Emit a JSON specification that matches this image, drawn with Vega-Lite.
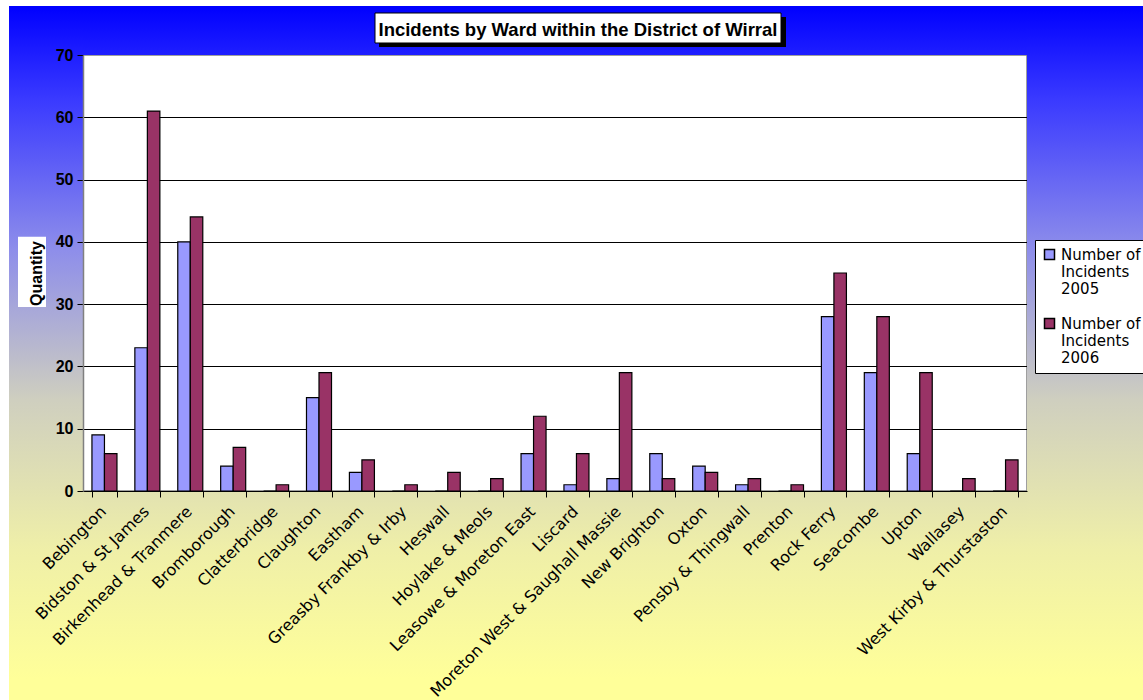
{
  "$schema": "https://vega.github.io/schema/vega-lite/v6.json",
  "width": 944,
  "height": 436,
  "autosize": {"type": "none"},
  "padding": {"left": 83, "top": 55, "right": 116, "bottom": 209},
  "background": "white",
  "title": {
    "text": "Incidents by Ward within the District of Wirral",
    "font": "Liberation Sans",
    "fontSize": 18.5,
    "fontWeight": "bold",
    "color": "black",
    "anchor": "middle",
    "frame": "group",
    "baseline": "alphabetic",
    "offset": 0,
    "dx": 23,
    "dy": 49,
    "zindex": 1
  },
  "config": {
    "view": {"fill": "white", "stroke": "#808080", "strokeWidth": 1.5},
    "axis": {"labelColor": "black", "tickColor": "black", "titleColor": "black"}
  },
  "datasets": {
    "frame": [{}],
    "wards": [
      {"ward": "Bebington", "Number of Incidents 2005": 9, "Number of Incidents 2006": 6},
      {"ward": "Bidston & St James", "Number of Incidents 2005": 23, "Number of Incidents 2006": 61},
      {"ward": "Birkenhead & Tranmere", "Number of Incidents 2005": 40, "Number of Incidents 2006": 44},
      {"ward": "Bromborough", "Number of Incidents 2005": 4, "Number of Incidents 2006": 7},
      {"ward": "Clatterbridge", "Number of Incidents 2005": 0, "Number of Incidents 2006": 1},
      {"ward": "Claughton", "Number of Incidents 2005": 15, "Number of Incidents 2006": 19},
      {"ward": "Eastham", "Number of Incidents 2005": 3, "Number of Incidents 2006": 5},
      {"ward": "Greasby Frankby & Irby", "Number of Incidents 2005": 0, "Number of Incidents 2006": 1},
      {"ward": "Heswall", "Number of Incidents 2005": 0, "Number of Incidents 2006": 3},
      {"ward": "Hoylake & Meols", "Number of Incidents 2005": 0, "Number of Incidents 2006": 2},
      {"ward": "Leasowe & Moreton East", "Number of Incidents 2005": 6, "Number of Incidents 2006": 12},
      {"ward": "Liscard", "Number of Incidents 2005": 1, "Number of Incidents 2006": 6},
      {"ward": "Moreton West & Saughall Massie", "Number of Incidents 2005": 2, "Number of Incidents 2006": 19},
      {"ward": "New Brighton", "Number of Incidents 2005": 6, "Number of Incidents 2006": 2},
      {"ward": "Oxton", "Number of Incidents 2005": 4, "Number of Incidents 2006": 3},
      {"ward": "Pensby & Thingwall", "Number of Incidents 2005": 1, "Number of Incidents 2006": 2},
      {"ward": "Prenton", "Number of Incidents 2005": 0, "Number of Incidents 2006": 1},
      {"ward": "Rock Ferry", "Number of Incidents 2005": 28, "Number of Incidents 2006": 35},
      {"ward": "Seacombe", "Number of Incidents 2005": 19, "Number of Incidents 2006": 28},
      {"ward": "Upton", "Number of Incidents 2005": 6, "Number of Incidents 2006": 19},
      {"ward": "Wallasey", "Number of Incidents 2005": 0, "Number of Incidents 2006": 2},
      {"ward": "West Kirby & Thurstaston", "Number of Incidents 2005": 0, "Number of Incidents 2006": 5}
    ]
  },
  "resolve": {"axis": {"y": "independent"}},
  "layer": [
    {
      "data": {"name": "frame"},
      "mark": {
        "type": "rect",
        "strokeWidth": 0,
        "fill": {
          "gradient": "linear", "x1": 0, "y1": 0, "x2": 0, "y2": 1,
          "stops": [
            {"offset": 0, "color": "#0000ff"},
            {"offset": 0.135, "color": "#3a3aff"},
            {"offset": 0.352, "color": "#8e8eea"},
            {"offset": 0.568, "color": "#cfcfbf"},
            {"offset": 0.784, "color": "#efefa8"},
            {"offset": 0.97, "color": "#ffff99"},
            {"offset": 1, "color": "#ffff99"}
          ]
        }
      },
      "encoding": {
        "x": {"value": -74},
        "x2": {"value": 0},
        "y": {
          "datum": 77.867, "type": "quantitative",
          "scale": {"domain": [0, 70], "nice": false, "zero": false},
          "axis": {
            "orient": "right", "values": [10, 20, 30, 40, 50, 60],
            "grid": true, "gridColor": "black", "gridWidth": 1,
            "labels": false, "ticks": false, "domain": false, "title": null, "zindex": 0
          }
        },
        "y2": {"datum": -33.555}
      }
    },
    {
      "data": {"name": "frame"},
      "mark": {
        "type": "rect",
        "strokeWidth": 0,
        "fill": {
          "gradient": "linear", "x1": 0, "y1": 0, "x2": 0, "y2": 1,
          "stops": [
            {"offset": 0, "color": "#0000ff"},
            {"offset": 0.135, "color": "#3a3aff"},
            {"offset": 0.352, "color": "#8e8eea"},
            {"offset": 0.568, "color": "#cfcfbf"},
            {"offset": 0.784, "color": "#efefa8"},
            {"offset": 0.97, "color": "#ffff99"},
            {"offset": 1, "color": "#ffff99"}
          ]
        }
      },
      "encoding": {
        "x": {"value": 944},
        "x2": {"value": 1060},
        "y": {"datum": 77.867, "type": "quantitative", "scale": {"domain": [0, 70], "nice": false, "zero": false}, "axis": null},
        "y2": {"datum": -33.555}
      }
    },
    {
      "data": {"name": "frame"},
      "mark": {
        "type": "rect",
        "strokeWidth": 0,
        "fill": {
          "gradient": "linear", "x1": 0, "y1": 0, "x2": 0, "y2": 1,
          "stops": [
            {"offset": 0, "color": "#0000ff"},
            {"offset": 1, "color": "#1e1eff"}
          ]
        }
      },
      "encoding": {
        "x": {"value": 0},
        "x2": {"value": 944},
        "y": {"datum": 77.867, "type": "quantitative", "scale": {"domain": [0, 70], "nice": false, "zero": false}, "axis": null},
        "y2": {"datum": 70}
      }
    },
    {
      "data": {"name": "frame"},
      "mark": {
        "type": "rect",
        "strokeWidth": 0,
        "fill": {
          "gradient": "linear", "x1": 0, "y1": 0, "x2": 0, "y2": 1,
          "stops": [
            {"offset": 0, "color": "#e2e2b1"},
            {"offset": 0.282, "color": "#efefa8"},
            {"offset": 0.9, "color": "#ffff99"},
            {"offset": 1, "color": "#ffff99"}
          ]
        }
      },
      "encoding": {
        "x": {"value": 0},
        "x2": {"value": 944},
        "y": {"datum": 0, "type": "quantitative", "scale": {"domain": [0, 70], "nice": false, "zero": false}, "axis": null},
        "y2": {"datum": -33.555}
      }
    },
    {
      "data": {"name": "frame"},
      "mark": {"type": "rect", "fill": "black", "strokeWidth": 0},
      "encoding": {
        "x": {"value": 296},
        "x2": {"value": 703},
        "y": {"datum": 76.101, "type": "quantitative", "scale": {"domain": [0, 70], "nice": false, "zero": false}, "axis": null},
        "y2": {"datum": 71.284}
      }
    },
    {
      "data": {"name": "frame"},
      "mark": {"type": "rect", "fill": "white", "stroke": "black", "strokeWidth": 1},
      "encoding": {
        "x": {"value": 292},
        "x2": {"value": 698},
        "y": {"datum": 76.743, "type": "quantitative", "scale": {"domain": [0, 70], "nice": false, "zero": false}, "axis": null},
        "y2": {"datum": 71.927}
      }
    },
    {
      "data": {"name": "frame"},
      "mark": {"type": "rect", "fill": "white", "strokeWidth": 0},
      "encoding": {
        "x": {"value": -65},
        "x2": {"value": -37},
        "y": {"datum": 40.83, "type": "quantitative", "scale": {"domain": [0, 70], "nice": false, "zero": false}, "axis": null},
        "y2": {"datum": 29.54}
      }
    },
    {
      "data": {"name": "wards"},
      "transform": [{"fold": ["Number of Incidents 2005", "Number of Incidents 2006"], "as": ["series", "count"]}],
      "mark": {"type": "bar", "stroke": "black", "strokeWidth": 1.2},
      "encoding": {
        "x": {
          "field": "ward", "type": "nominal", "sort": null,
          "scale": {"paddingInner": 0.417, "paddingOuter": 0.2085},
          "axis": {
            "title": null, "labelAngle": -45, "labelFont": "DejaVu Sans", "labelFontSize": 16,
            "labelColor": "black", "labelLimit": 0, "labelOverlap": false, "labelPadding": 6, "labelOffset": -7,
            "tickBand": "extent", "tickSize": 6, "tickColor": "black", "tickWidth": 1,
            "domainColor": "black", "domainWidth": 1.2, "zindex": 1
          }
        },
        "xOffset": {"field": "series", "type": "nominal", "scale": {"paddingInner": 0, "paddingOuter": 0}},
        "y": {
          "field": "count", "type": "quantitative",
          "scale": {"domain": [0, 70], "nice": false, "zero": false},
          "axis": {
            "orient": "left", "values": [0, 10, 20, 30, 40, 50, 60, 70], "grid": false,
            "domainColor": "#808080", "domainWidth": 1.5, "tickSize": 6, "tickColor": "black",
            "labelFont": "Liberation Sans", "labelFontSize": 16, "labelFontWeight": "bold", "labelPadding": 4,
            "title": "Quantity", "titleFont": "Liberation Sans", "titleFontSize": 16, "titleFontWeight": "bold",
            "titlePadding": 11, "zindex": 1
          }
        },
        "color": {
          "field": "series", "type": "nominal",
          "scale": {"range": ["#9999ff", "#993366"]},
          "legend": {
            "title": null, "orient": "none", "legendX": 952, "legendY": 185,
            "fillColor": "white", "strokeColor": "black", "padding": 7,
            "symbolType": "square", "symbolSize": 100, "symbolStrokeColor": "black", "symbolStrokeWidth": 1.5,
            "labelFont": "DejaVu Sans", "labelFontSize": 15, "labelColor": "black", "labelLimit": 0,
            "labelExpr": "['Number of', 'Incidents', substring(datum.label, 20)]",
            "rowPadding": 18, "zindex": 1
          }
        }
      }
    }
  ]
}
